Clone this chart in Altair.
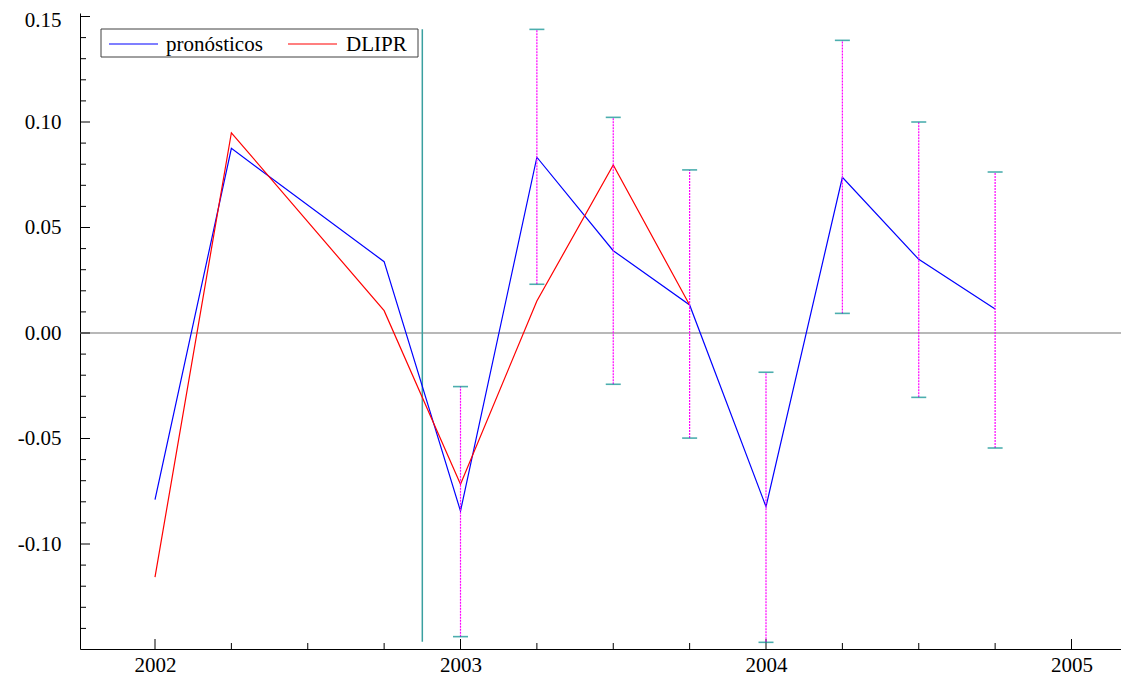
import altair as alt
import pandas as pd

# ---------------- data ----------------
quarters_fc = [2002.0, 2002.25, 2002.75, 2003.0, 2003.25, 2003.5, 2003.75,
               2004.0, 2004.25, 2004.5, 2004.75]
pronosticos = [-0.0790, 0.0875, 0.0338, -0.0844, 0.0833, 0.0390, 0.0133,
               -0.0823, 0.0738, 0.0349, 0.0114]
quarters_act = [2002.0, 2002.25, 2002.75, 2003.0, 2003.25, 2003.5, 2003.75]
dlipr = [-0.1157, 0.0949, 0.0106, -0.0717, 0.0152, 0.0796, 0.0133]

err_x = [2003.0, 2003.25, 2003.5, 2003.75, 2004.0, 2004.25, 2004.5, 2004.75]
err_lo = [-0.1439, 0.0231, -0.0243, -0.0498, -0.1466, 0.0093, -0.0305, -0.0545]
err_hi = [-0.0254, 0.1439, 0.1022, 0.0773, -0.0186, 0.1387, 0.1000, 0.0763]

split_x = [2002.875]
split_lo = [-0.1463]
split_hi = [0.1439]

x_labels = [2002, 2003, 2004, 2005]
x_minor = [2002.25, 2002.5, 2002.75, 2003.25, 2003.5, 2003.75,
           2004.25, 2004.5, 2004.75]
y_major = [-0.10, -0.05, 0.00, 0.05, 0.10, 0.15]
y_minor = [-0.14, -0.13, -0.12, -0.11, -0.09, -0.08, -0.07, -0.06,
           -0.04, -0.03, -0.02, -0.01, 0.01, 0.02, 0.03, 0.04,
           0.06, 0.07, 0.08, 0.09, 0.11, 0.12, 0.13, 0.14]
legend_labels = ["pronósticos", "DLIPR"]
legend_colors = ["#0000ff", "#ff0000"]

# ---------------- layout ----------------
W, H = 1041, 636
FONT = "Liberation Serif"

xscale = alt.Scale(domain=[2001.7545, 2001.7545 + W / 305.5], nice=False, zero=False)
yscale = alt.Scale(domain=[-0.14976, 0.15166], nice=False, zero=False)

xaxis = alt.Axis(values=x_labels, format="d", title=None, ticks=False, tickSize=0,
                 grid=False, labelPadding=5, domainColor="black", labelFlush=False)
yaxis = alt.Axis(values=y_major, title=None, ticks=False, tickSize=0, grid=False,
                 labelPadding=19, domainColor="black", labelFlush=False,
                 labelOffset={"condition": {"test": "datum.value > 0.14", "value": 3.5},
                              "value": 0},
                 labelExpr="replace(format(datum.value, '.2f'), '\u2212', '-')")


def X(f):
    return alt.X(f"{f}:Q", scale=xscale, axis=xaxis)


def Y(f):
    return alt.Y(f"{f}:Q", scale=yscale, axis=yaxis)


df_fc = pd.DataFrame({"t": quarters_fc, "v": pronosticos})
df_act = pd.DataFrame({"t": quarters_act, "v": dlipr})
df_err = pd.DataFrame({"t": err_x, "lo": err_lo, "hi": err_hi})
df_split = pd.DataFrame({"t": split_x, "lo": split_lo, "hi": split_hi})
df_ymaj = pd.DataFrame({"v": y_major})
df_ymin = pd.DataFrame({"v": y_minor})
df_xmaj = pd.DataFrame({"v": x_labels})
df_xmin = pd.DataFrame({"v": x_minor})
df_zero = pd.DataFrame({"v": [0.0]})
one = pd.DataFrame({"a": [0]})

zero_line = alt.Chart(df_zero).mark_rule(color="#a0a0a0", strokeWidth=1.5).encode(
    y=Y("v"), x=alt.value(0), x2=alt.value(W))

ytick_maj = alt.Chart(df_ymaj).mark_rule(color="black", strokeWidth=1).encode(
    y=Y("v"), x=alt.value(0), x2=alt.value(10))
ytick_min = alt.Chart(df_ymin).mark_rule(color="black", strokeWidth=1).encode(
    y=Y("v"), x=alt.value(0), x2=alt.value(6))
xtick_maj = alt.Chart(df_xmaj).mark_rule(color="black", strokeWidth=1).encode(
    x=X("v"), y=alt.value(H), y2=alt.value(H - 10))
xtick_min = alt.Chart(df_xmin).mark_rule(color="black", strokeWidth=1).encode(
    x=X("v"), y=alt.value(H), y2=alt.value(H - 6))

split = alt.Chart(df_split).mark_rule(color="#3aa0a0", strokeWidth=1.5).encode(
    x=X("t"), y=Y("lo"), y2="hi")

err_rule = alt.Chart(df_err).mark_rule(color="#ff00ff", strokeWidth=1.2,
                                       strokeDash=[2, 1]).encode(
    x=X("t"), y=Y("lo"), y2="hi")
cap_lo = alt.Chart(df_err).mark_tick(orient="horizontal", size=15, thickness=1.6,
                                     color="#008b8b").encode(x=X("t"), y=Y("lo"))
cap_hi = alt.Chart(df_err).mark_tick(orient="horizontal", size=15, thickness=1.6,
                                     color="#008b8b").encode(x=X("t"), y=Y("hi"))

line_fc = alt.Chart(df_fc).mark_line(color=legend_colors[0], strokeWidth=1.2).encode(
    x=X("t"), y=Y("v"))
line_act = alt.Chart(df_act).mark_line(color=legend_colors[1], strokeWidth=1.2).encode(
    x=X("t"), y=Y("v"))

# legend box
leg_box = alt.Chart(one).mark_rect(fill="white", stroke="#404040", strokeWidth=1).encode(
    x=alt.value(21), x2=alt.value(338), y=alt.value(16), y2=alt.value(44))
leg_l1 = alt.Chart(one).mark_rule(color=legend_colors[0], strokeWidth=1.2).encode(
    x=alt.value(29), x2=alt.value(78), y=alt.value(31))
leg_l2 = alt.Chart(one).mark_rule(color=legend_colors[1], strokeWidth=1.2).encode(
    x=alt.value(208), x2=alt.value(257), y=alt.value(31))
leg_t1 = alt.Chart(one).mark_text(text=legend_labels[0], font=FONT, fontSize=21,
                                  align="left", baseline="alphabetic", color="black").encode(
    x=alt.value(86), y=alt.value(38))
leg_t2 = alt.Chart(one).mark_text(text=legend_labels[1], font=FONT, fontSize=21,
                                  align="left", baseline="alphabetic", color="black").encode(
    x=alt.value(266), y=alt.value(38))

chart = alt.layer(
    zero_line, ytick_maj, ytick_min, xtick_maj, xtick_min, split,
    line_fc, line_act, err_rule, cap_lo, cap_hi,
    leg_box, leg_l1, leg_l2, leg_t1, leg_t2,
).properties(
    width=W, height=H,
    autosize=alt.AutoSizeParams(type="none"),
    padding={"left": 72, "top": 5, "right": 0, "bottom": 30},
).configure_view(stroke=None).configure_axis(
    labelFont=FONT, labelFontSize=21, labelColor="black", domainWidth=1, grid=False
)

chart.save("out.html", embed_options={"renderer": "svg", "actions": False})
